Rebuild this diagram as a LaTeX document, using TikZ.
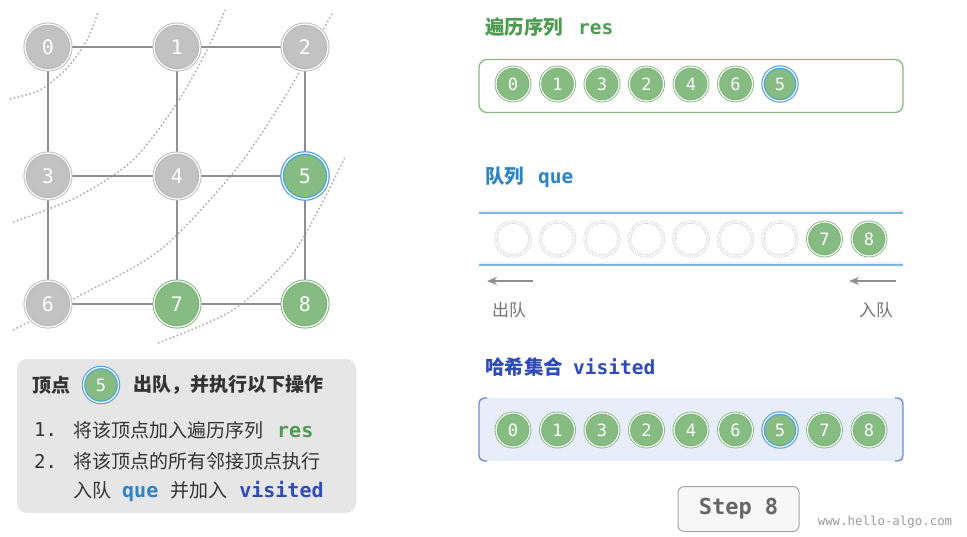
\documentclass[tikz,border=0pt]{standalone}
\usepackage{fontspec}
\setmainfont{Noto Sans CJK SC}
\setmonofont{DejaVu Sans Mono}
\usetikzlibrary{arrows.meta,backgrounds}
\definecolor{gfill}{HTML}{C2C2C2}
\definecolor{gline}{HTML}{B5B5B5}
\definecolor{gedge}{HTML}{8F8F8F}
\definecolor{grn}{HTML}{86BB82}
\definecolor{grnline}{HTML}{78B174}
\definecolor{blu}{HTML}{4A9EDF}
\definecolor{resc}{HTML}{4E9A50}
\definecolor{quec}{HTML}{2C83C8}
\definecolor{visc}{HTML}{2E4BB8}
\definecolor{visfill}{HTML}{E8EDFA}
\definecolor{visline}{HTML}{7088D8}
\definecolor{infofill}{HTML}{E6E6E6}
\definecolor{txt}{HTML}{333333}
\definecolor{qline}{HTML}{7DB8E2}
\definecolor{arcc}{HTML}{A8A8A8}
\begin{document}
\begin{tikzpicture}[x=1pt,y=-1pt,
  big/.style={circle,minimum size=46pt,inner sep=0pt,line width=0.9pt,double=white,double distance=1.3pt,
    font=\fontsize{20}{20}\selectfont\ttfamily,text=white},
  gnode/.style={big,fill=gfill,draw=gline},
  gnodeg/.style={big,fill=grn,draw=grnline},
  gnodeb/.style={big,fill=grn,draw=blu,line width=1.2pt},
  small/.style={circle,minimum size=34pt,inner sep=0pt,line width=0.8pt,double=white,double distance=1.2pt,
    font=\fontsize{17}{17}\selectfont\ttfamily,text=white},
  sg/.style={small,fill=grn,draw=grnline},
  sb/.style={small,fill=grn,draw=blu,line width=1.1pt},
  se/.style={small,draw=black!25,densely dotted,line width=0.6pt,double distance=2.2pt},
  edge/.style={draw=gedge,line width=2pt},
  arcl/.style={draw=arcc,line width=1.5pt,dash pattern=on 1.5pt off 2.5pt},
  title/.style={anchor=west,inner sep=0pt,font=\fontsize{19.5}{22}\selectfont\bfseries},
  body/.style={anchor=west,inner sep=0pt,font=\fontsize{19}{22}\selectfont,text=txt},
  mono/.style={font=\fontsize{20}{22}\selectfont\ttfamily\bfseries},
  qarrow/.style={draw=gedge,line width=2pt,-{Stealth[length=10pt,width=8pt]}},
]
\useasboundingbox (0,0) rectangle (967,536);

% graph nodes
\node[gnode]  (n0) at (48,47)  {0};
\node[gnode]  (n1) at (177,47) {1};
\node[gnode]  (n2) at (305,47) {2};
\node[gnode]  (n3) at (48,176) {3};
\node[gnode]  (n4) at (177,176) {4};
\node[gnodeb] (n5) at (305,176) {5};
\node[gnode]  (n6) at (48,304) {6};
\node[gnodeg] (n7) at (177,304) {7};
\node[gnodeg] (n8) at (305,304) {8};

\begin{scope}[on background layer]
% dotted layer arcs
\draw[arcl] plot[smooth] coordinates {(10,99) (40,90) (67,68) (87,40) (98,12)};
\draw[arcl] plot[smooth] coordinates {(13,222) (77,197) (133,160) (177,103) (207,50) (225,10)};
\draw[arcl] plot[smooth] coordinates {(13,330) (77,297) (160,250) (233,173) (283,100) (333,12)};
\draw[arcl] plot[smooth] coordinates {(158,343) (233,310) (290,257) (320,207) (345,157)};
\foreach \a/\b in {n0/n1,n1/n2,n3/n4,n4/n5,n6/n7,n7/n8,n0/n3,n3/n6,n1/n4,n4/n7,n2/n5,n5/n8}
  \draw[edge] (\a) -- (\b);
\end{scope}

% info box
\node[draw=none,fill=infofill,rounded corners=10pt,minimum width=339pt,minimum height=154pt,inner sep=0pt] (info) at (186.5,436) {};
\node[body,font=\fontsize{19}{22}\selectfont\bfseries] (h1) at (32,385) {顶点};
\node[sb,minimum size=35pt] (h5) at (101,385) {5};
\node[body,font=\fontsize{19}{22}\selectfont\bfseries] (h2) at (133,385) {出队，并执行以下操作};
\node[body,font=\fontsize{19}{22}\selectfont\ttfamily] (l1n) at (34,430) {1.};
\node[body] (l1) at (73,430) {将该顶点加入遍历序列\hspace{14pt}{\fontsize{20}{22}\selectfont\ttfamily\bfseries\color{resc}res}};
\node[body,font=\fontsize{19}{22}\selectfont\ttfamily] (l2n) at (34,461) {2.};
\node[body] (l2) at (73,461) {将该顶点的所有邻接顶点执行};
\node[body] (l3) at (73,491) {入队\hspace{11pt}{\fontsize{20}{22}\selectfont\ttfamily\bfseries\color{quec}que}\hspace{12pt}并加入\hspace{12pt}{\fontsize{20}{22}\selectfont\ttfamily\bfseries\color{visc}visited}};

% res
\node[title,text=resc] (tres) at (485,27) {遍历序列\hspace{15pt}{\ttfamily res}};
\node[draw=grn,line width=1.3pt,rounded corners=8pt,minimum width=424pt,minimum height=53pt,inner sep=0pt] (resbox) at (691,86) {};
\foreach \v [count=\i from 0] in {0,1,3,2,4,6} {
  \node[sg] (r\i) at (513+44.5*\i,84) {\v};
}
\node[sb] (r6) at (780,84) {5};

% queue
\node[title,text=quec] (tque) at (485,177) {队列\hspace{14pt}{\ttfamily que}};
\coordinate (qa) at (479,213); \coordinate (qb) at (903,213);
\coordinate (qc) at (479,265); \coordinate (qd) at (903,265);
\draw[black!6,line width=3pt] ([yshift=2pt]qa) -- ([yshift=2pt]qb);
\draw[black!6,line width=3pt] ([yshift=2pt]qc) -- ([yshift=2pt]qd);
\draw[qline,line width=1.2pt] (qa) -- (qb);
\draw[qline,line width=1.2pt] (qc) -- (qd);
\foreach \i in {0,...,6} {
  \node[se] (q\i) at (513+44.5*\i,239) {};
}
\node[sg] (q7) at (824.5,239) {7};
\node[sg] (q8) at (869,239) {8};
\coordinate (ola) at (533,281); \coordinate (olb) at (487,281);
\coordinate (ila) at (896,281); \coordinate (ilb) at (849,281);
\draw[qarrow] (ola) -- (olb);
\draw[qarrow] (ila) -- (ilb);
\node[inner sep=0pt,font=\fontsize{17}{20}\selectfont,text=black!55] (outl) at (509,310) {出队};
\node[inner sep=0pt,font=\fontsize{17}{20}\selectfont,text=black!55] (inl) at (876,310) {入队};

% visited
\node[title,text=visc] (tvis) at (485,367) {哈希集合\hspace{10pt}{\ttfamily visited}};
\fill[visfill] (479,398) rectangle (903,461);
\draw[visline,line width=1.3pt,rounded corners=6pt] (487,398) -- (479,398) -- (479,461) -- (487,461);
\draw[visline,line width=1.3pt,rounded corners=6pt] (895,398) -- (903,398) -- (903,461) -- (895,461);
\foreach \v [count=\i from 0] in {0,1,3,2,4,6} {
  \node[sg] (v\i) at (513+44.5*\i,430) {\v};
}
\node[sb] (v6) at (780,430) {5};
\node[sg] (v7) at (824.5,430) {7};
\node[sg] (v8) at (869,430) {8};

% step
\node[draw=black!35,fill=black!3,line width=1pt,rounded corners=6pt,minimum width=121pt,minimum height=45pt,inner sep=0pt,
  font=\fontsize{22}{22}\selectfont\ttfamily\bfseries,text=black!60] (step) at (738.5,509) {Step 8};
\node[inner sep=0pt,font=\fontsize{12.4}{14}\selectfont\ttfamily,text=black!40] (www) at (885,522) {www.hello-algo.com};
\end{tikzpicture}
\end{document}
